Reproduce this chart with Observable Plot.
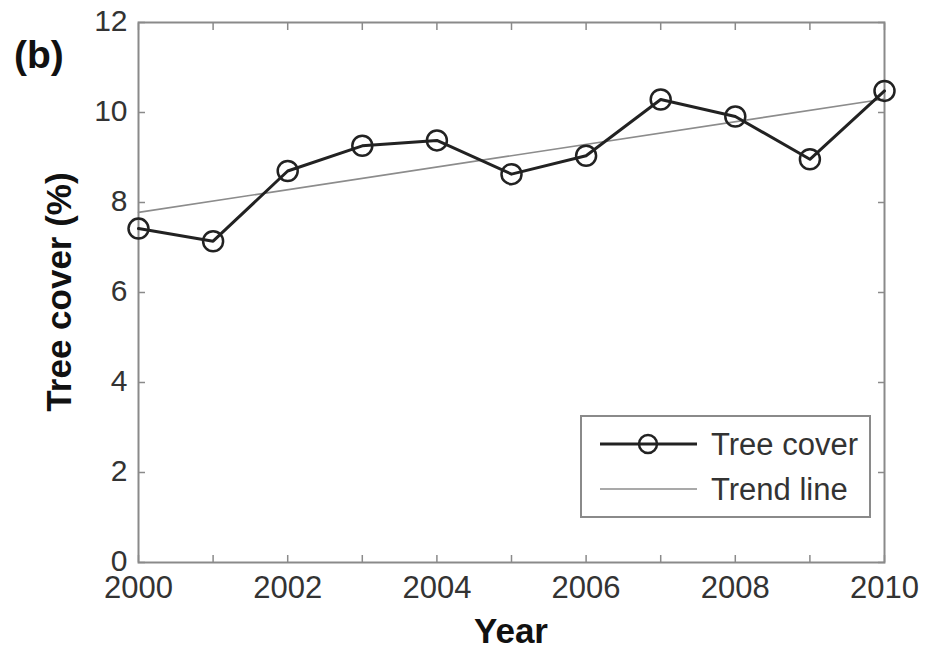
<!DOCTYPE html>
<html>
<head>
<meta charset="utf-8">
<script src="https://cdn.jsdelivr.net/npm/d3@7"></script>
<script src="https://cdn.jsdelivr.net/npm/@observablehq/plot@0.6"></script>
<style>
  html, body { margin: 0; padding: 0; background: #fff; }
  #chart svg { display: block; }
</style>
</head>
<body>
<div id="chart"></div>
<script>
// Annual tree cover, 2000–2010
const years = [2000, 2001, 2002, 2003, 2004, 2005, 2006, 2007, 2008, 2009, 2010];
const treeCover = [7.42, 7.14, 8.70, 9.26, 9.38, 8.63, 9.04, 10.29, 9.91, 8.96, 10.48];

// Linear trend, given by its two end points
const trendYears = [2000, 2010];
const trendValues = [7.78, 10.30];

// Axis ticks
const xTicks = years;
const xLabels = [2000, 2002, 2004, 2006, 2008, 2010];
const yTicks = [0, 2, 4, 6, 8, 10, 12];

const series = years.map((year, i) => ({year, value: treeCover[i]}));
const trend = trendYears.map((year, i) => ({year, value: trendValues[i]}));

const font = "'Liberation Sans', Arial, Helvetica, sans-serif";
const axisGray = "#8a8a8a";
const textGray = "#333";
const blank = () => "";

const plot = Plot.plot({
  width: 934,
  height: 650,
  marginLeft: 138,
  marginRight: 50,
  marginTop: 22,
  marginBottom: 88,
  style: {fontFamily: font, background: "#fff"},
  x: {domain: [2000, 2010], axis: null},
  y: {domain: [0, 12], axis: null},
  marks: [
    // inward tick marks on all four sides
    Plot.axisX(xTicks, {anchor: "bottom", tickSize: 7, dy: -7, tickFormat: blank, stroke: axisGray, strokeWidth: 1.5, label: null}),
    Plot.axisX(xTicks, {anchor: "top", tickSize: 7, dy: 7, tickFormat: blank, stroke: axisGray, strokeWidth: 1.5, label: null}),
    Plot.axisY(yTicks, {anchor: "left", tickSize: 7, dx: 7, tickFormat: blank, stroke: axisGray, strokeWidth: 1.5, label: null}),
    Plot.axisY(yTicks, {anchor: "right", tickSize: 7, dx: -7, tickFormat: blank, stroke: axisGray, strokeWidth: 1.5, label: null}),
    // tick labels: every other year on x
    Plot.axisX(xLabels, {
      anchor: "bottom", tickSize: 0, tickPadding: 13, tickFormat: d => String(d),
      fontSize: 31, color: textGray, label: null
    }),
    Plot.axisY(yTicks, {
      anchor: "left", tickSize: 0, tickPadding: 11, dy: -1, tickFormat: d => String(d),
      fontSize: 30, color: textGray, label: null
    }),
    Plot.frame({stroke: axisGray, strokeWidth: 2}),
    // trend line
    Plot.line(trend, {x: "year", y: "value", stroke: "#8c8c8c", strokeWidth: 1.6}),
    // tree cover series
    Plot.line(series, {x: "year", y: "value", stroke: "#222", strokeWidth: 3}),
    Plot.dot(series, {x: "year", y: "value", r: 10, stroke: "#222", strokeWidth: 2.5, fill: "none"})
  ]
});

const svg = d3.select(plot);

// axis titles
svg.append("text")
  .attr("x", 511).attr("y", 643)
  .attr("text-anchor", "middle")
  .attr("font-family", font).attr("font-size", 35).attr("font-weight", "bold")
  .attr("fill", "#111")
  .text("Year");

svg.append("text")
  .attr("transform", "translate(71,292) rotate(-90)")
  .attr("text-anchor", "middle")
  .attr("font-family", font).attr("font-size", 35).attr("font-weight", "bold")
  .attr("fill", "#111")
  .text("Tree cover (%)");

// panel label
svg.append("text")
  .attr("x", 14).attr("y", 68)
  .attr("text-anchor", "start")
  .attr("font-family", font).attr("font-size", 39).attr("font-weight", "bold")
  .attr("fill", "#111")
  .text("(b)");

// legend
const legend = svg.append("g").attr("font-family", font).attr("text-anchor", "start");
legend.append("rect")
  .attr("x", 581).attr("y", 416).attr("width", 289).attr("height", 101)
  .attr("fill", "#fff").attr("stroke", axisGray).attr("stroke-width", 2);
legend.append("line")
  .attr("x1", 600).attr("x2", 697).attr("y1", 444).attr("y2", 444)
  .attr("stroke", "#222").attr("stroke-width", 3);
legend.append("circle")
  .attr("cx", 648).attr("cy", 444).attr("r", 9)
  .attr("fill", "none").attr("stroke", "#222").attr("stroke-width", 2.5);
legend.append("text")
  .attr("x", 711).attr("y", 455)
  .attr("font-size", 31).attr("fill", textGray)
  .text("Tree cover");
legend.append("line")
  .attr("x1", 600).attr("x2", 697).attr("y1", 489).attr("y2", 489)
  .attr("stroke", "#8c8c8c").attr("stroke-width", 1.6);
legend.append("text")
  .attr("x", 711).attr("y", 500)
  .attr("font-size", 31).attr("fill", textGray)
  .text("Trend line");

document.getElementById("chart").appendChild(plot);
</script>
</body>
</html>
